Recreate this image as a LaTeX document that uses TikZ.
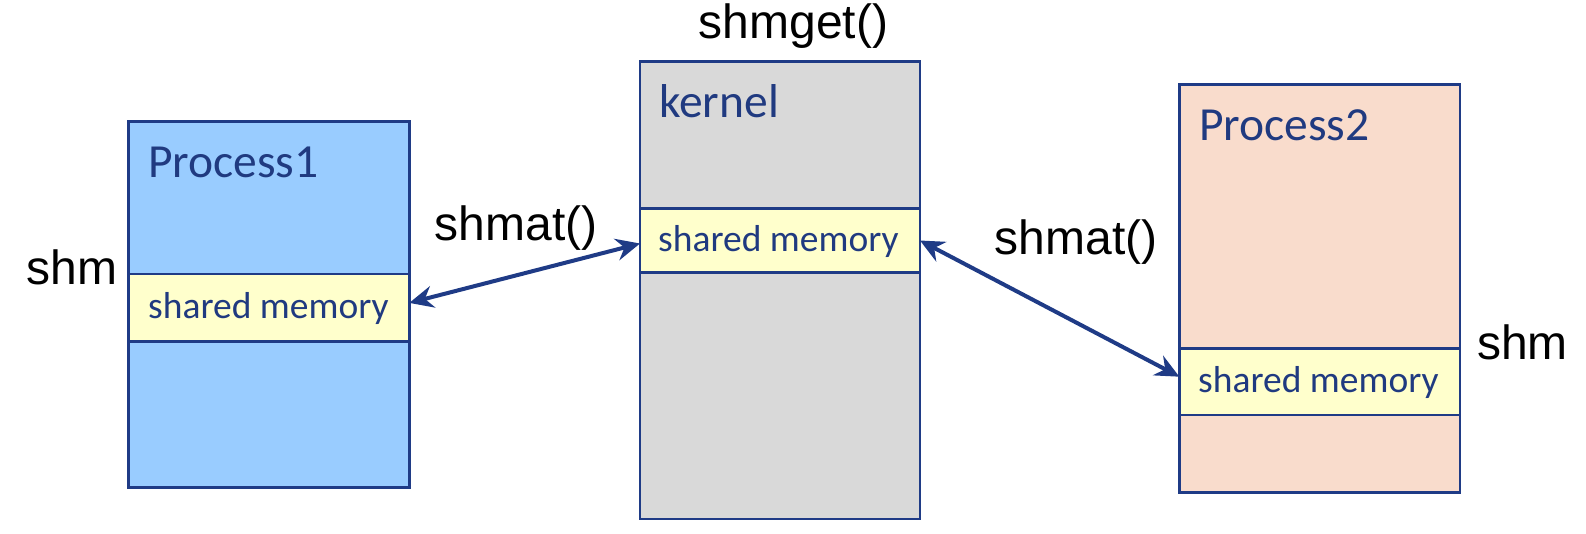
\documentclass[tikz,border=0pt]{standalone}
\usepackage{fontspec}
\setmainfont{Liberation Sans}
\newfontfamily\calfont{Carlito}
\usetikzlibrary{arrows.meta}
\definecolor{edgeblue}{HTML}{1F3B86}
\definecolor{textblue}{HTML}{203A80}
\definecolor{pone}{HTML}{99CCFF}
\definecolor{kgray}{HTML}{D9D9D9}
\definecolor{ptwo}{HTML}{F9DCCC}
\definecolor{shyellow}{HTML}{FFFFCC}
\tikzset{
  membox/.style={draw=edgeblue, line width=2.8pt, rectangle, inner sep=0pt, outer sep=0pt},
  shmband/.style={membox, fill=shyellow, minimum width=#1},
  boxtitle/.style={anchor=base west, inner sep=0pt, text=textblue, font=\calfont\fontsize{47.5}{56}\selectfont},
  bandtext/.style={anchor=base west, inner sep=0pt, text=textblue, font=\calfont\fontsize{37.5}{44}\selectfont},
  calllabel/.style={anchor=base west, inner sep=0pt, text=black, font=\fontsize{48}{56}\selectfont},
  link/.style={draw=edgeblue, line width=4pt, {Stealth[length=24pt,width=22pt,inset=8pt]}-{Stealth[length=24pt,width=22pt,inset=8pt]}}
}
\begin{document}
\begin{tikzpicture}[x=1pt,y=-1pt]
\useasboundingbox (0,0) rectangle (1586,533);
% process boxes
\node[membox, fill=pone, minimum width=280.6pt, minimum height=366pt] (p1) at (269,304.3) {};
\node[membox, fill=kgray, minimum width=280pt, minimum height=457.7pt] (k) at (780,290.2) {};
\node[membox, fill=ptwo, minimum width=280.7pt, minimum height=408pt] (p2) at (1319.7,288.3) {};
% shared memory bands
\node[shmband=280.6pt, minimum height=67.7pt] (b1) at (269,307.9) {};
\node[shmband=280pt, minimum height=64.4pt] (bk) at (780,240.5) {};
\node[shmband=280.7pt, minimum height=66.7pt] (b2) at (1319.7,381.7) {};
% titles
\node[boxtitle] (t1) at (148,177) {Process1};
\node[boxtitle] (tk) at (659,117) {kernel};
\node[boxtitle] (t2) at (1199,140) {Process2};
% band texts
\node[bandtext] (s1) at (148,318) {shared memory};
\node[bandtext] (sk) at (658,251) {shared memory};
\node[bandtext] (s2) at (1198,392) {shared memory};
% labels
\node[calllabel] (l1) at (26.5,284.5) {shm};
\node[calllabel] (l2) at (1477,359) {shm};
\node[calllabel] (g) at (698.5,38.5) {shmget()};
\node[calllabel] (a1) at (434.5,240) {shmat()};
\node[calllabel] (a2) at (994.5,254.5) {shmat()};
% connectors
\draw[link] ([yshift=5pt]b1.east) -- ([yshift=-3pt]bk.west);
\draw[link] (bk.east) -- ([yshift=5pt]b2.west);
\end{tikzpicture}
\end{document}
